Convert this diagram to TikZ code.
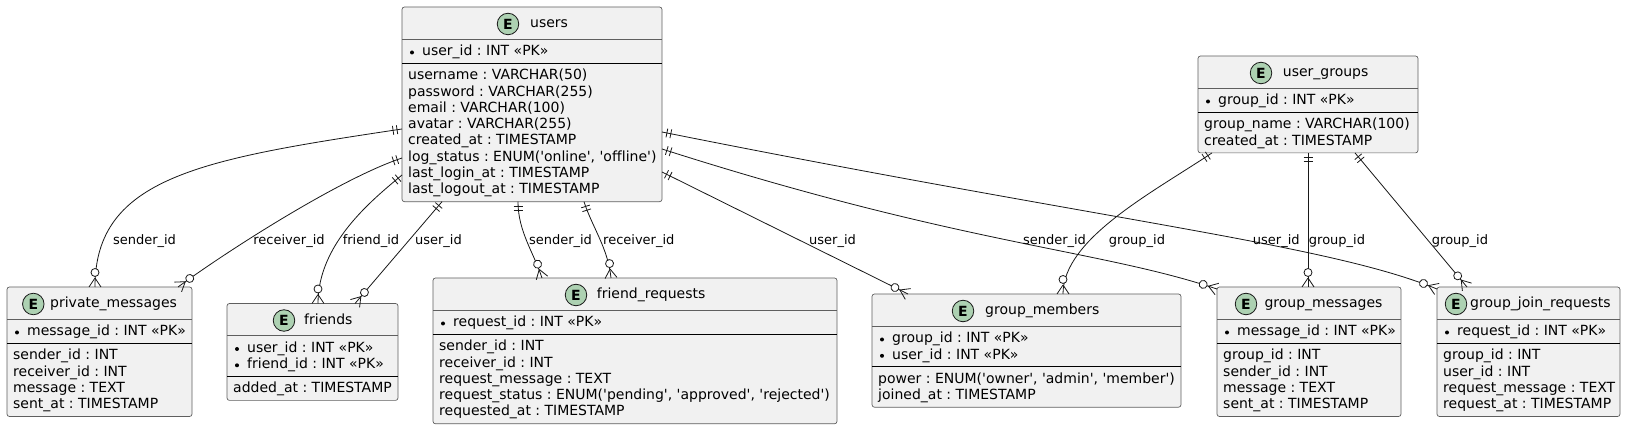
\documentclass[tikz,border=0pt]{standalone}
\usepackage{fontspec}
\newfontfamily\dvsans{DejaVu Sans}[Ligatures=NoCommon]
\usetikzlibrary{calc,decorations.markings}

\definecolor{boxfill}{HTML}{F1F1F1}
\definecolor{boxline}{HTML}{5F5F5F}
\definecolor{entgreen}{HTML}{ADD1B2}
\definecolor{relline}{HTML}{181818}
\newcommand\attrfont{\dvsans\fontsize{14}{16}\selectfont\frenchspacing}
\newcommand\relfont{\dvsans\fontsize{13}{15}\selectfont\frenchspacing}

\tikzset{
	entbox/.style={draw=boxline, fill=boxfill, line width=0.7pt, rounded corners=2.5pt, inner sep=0pt, outer sep=0pt, anchor=north west},
	ecircle/.style={circle, draw=relline, fill=entgreen, line width=0.8pt, minimum size=21.5pt, inner sep=0pt, font=\attrfont\bfseries},
	etitle/.style={anchor=base west, inner sep=0pt, font=\attrfont},
	attr/.style={anchor=base west, inner sep=0pt, font=\attrfont},
	pkdot/.style={fill=black},
	tsep/.style={draw=boxline, line width=0.7pt},
	ksep/.style={draw=black, line width=1.1pt},
	rlabel/.style={anchor=base, inner sep=0pt, font=\relfont},
	rel/.style={draw=relline, line width=0.8pt, postaction={decorate}, decoration={markings,
		mark=at position 0 with {\draw[relline, line width=0.8pt] (5pt,-4.5pt) -- (5pt,4.5pt) (9pt,-4.5pt) -- (9pt,4.5pt);},
		mark=at position 0.9999 with {\draw[relline, line width=0.8pt] (-9pt,0pt) -- (0pt,6pt) (-9pt,0pt) -- (0pt,-6pt); \draw[relline, line width=0.8pt, fill=white] (-14.5pt,0pt) circle (4pt);}}}
}

\begin{document}
\begin{tikzpicture}[x=1pt, y=-1pt]

	\useasboundingbox[fill=white] (0,0) rectangle (1626,430);

	% users
	\node[entbox, minimum width=260pt, minimum height=194.7pt] (users) at (402,7) {};
	\node[ecircle] (users-e) at (508,24) {E};
	\node[etitle] (users-t) at (530,28) {users};
	\draw[tsep] ([yshift=-32pt]users.north west) -- ([yshift=-32pt]users.north east);
	\draw[ksep] ([yshift=-56.3pt]users.north west) -- ([yshift=-56.3pt]users.north east);
	\fill[pkdot] (412,52.5) circle (2pt);
	\node[attr] (users-k1) at (422,56) {user\_id : INT «PK»};
	\node[attr] (users-a1) at (408,79.8) {username : VARCHAR(50)};
	\node[attr] (users-a2) at (408,96.1) {password : VARCHAR(255)};
	\node[attr] (users-a3) at (408,112.4) {email : VARCHAR(100)};
	\node[attr] (users-a4) at (408,128.7) {avatar : VARCHAR(255)};
	\node[attr] (users-a5) at (408,145) {created\_at : TIMESTAMP};
	\node[attr] (users-a6) at (408,161.3) {log\_status : ENUM('online', 'offline')};
	\node[attr] (users-a7) at (408,177.6) {last\_login\_at : TIMESTAMP};
	\node[attr] (users-a8) at (408,193.9) {last\_logout\_at : TIMESTAMP};

	% user_groups
	\node[entbox, minimum width=220pt, minimum height=96.9pt] (ugroups) at (1198,56) {};
	\node[ecircle] (ugroups-e) at (1261,73) {E};
	\node[etitle] (ugroups-t) at (1282.7,77) {user\_groups};
	\draw[tsep] ([yshift=-32pt]ugroups.north west) -- ([yshift=-32pt]ugroups.north east);
	\draw[ksep] ([yshift=-56.3pt]ugroups.north west) -- ([yshift=-56.3pt]ugroups.north east);
	\fill[pkdot] (1208,101.5) circle (2pt);
	\node[attr] (ugroups-k1) at (1218,105) {group\_id : INT «PK»};
	\node[attr] (ugroups-a1) at (1204,128.8) {group\_name : VARCHAR(100)};
	\node[attr] (ugroups-a2) at (1204,145.1) {created\_at : TIMESTAMP};

	% private_messages
	\node[entbox, minimum width=185pt, minimum height=129.5pt] (pmsg) at (7,287) {};
	\node[ecircle] (pmsg-e) at (33.3,304) {E};
	\node[etitle] (pmsg-t) at (50,308) {private\_messages};
	\draw[tsep] ([yshift=-32pt]pmsg.north west) -- ([yshift=-32pt]pmsg.north east);
	\draw[ksep] ([yshift=-56.3pt]pmsg.north west) -- ([yshift=-56.3pt]pmsg.north east);
	\fill[pkdot] (17,332.5) circle (2pt);
	\node[attr] (pmsg-k1) at (27,336) {message\_id : INT «PK»};
	\node[attr] (pmsg-a1) at (13,359.8) {sender\_id : INT};
	\node[attr] (pmsg-a2) at (13,376.1) {receiver\_id : INT};
	\node[attr] (pmsg-a3) at (13,392.4) {message : TEXT};
	\node[attr] (pmsg-a4) at (13,408.7) {sent\_at : TIMESTAMP};

	% friends
	\node[entbox, minimum width=171pt, minimum height=96.9pt] (friends) at (227,303.5) {};
	\node[ecircle] (friends-e) at (284,320.5) {E};
	\node[etitle] (friends-t) at (304,324.5) {friends};
	\draw[tsep] ([yshift=-32pt]friends.north west) -- ([yshift=-32pt]friends.north east);
	\draw[ksep] ([yshift=-72.6pt]friends.north west) -- ([yshift=-72.6pt]friends.north east);
	\fill[pkdot] (237,349) circle (2pt);
	\fill[pkdot] (237,365.3) circle (2pt);
	\node[attr] (friends-k1) at (247,352.5) {user\_id : INT «PK»};
	\node[attr] (friends-k2) at (247,368.8) {friend\_id : INT «PK»};
	\node[attr] (friends-a1) at (233,392.6) {added\_at : TIMESTAMP};

	% friend_requests
	\node[entbox, minimum width=404pt, minimum height=145.8pt] (freq) at (433,278) {};
	\node[ecircle] (freq-e) at (576,295) {E};
	\node[etitle] (freq-t) at (596.7,299) {friend\_requests};
	\draw[tsep] ([yshift=-32pt]freq.north west) -- ([yshift=-32pt]freq.north east);
	\draw[ksep] ([yshift=-56.3pt]freq.north west) -- ([yshift=-56.3pt]freq.north east);
	\fill[pkdot] (443,323.5) circle (2pt);
	\node[attr] (freq-k1) at (453,327) {request\_id : INT «PK»};
	\node[attr] (freq-a1) at (439,350.8) {sender\_id : INT};
	\node[attr] (freq-a2) at (439,367.1) {receiver\_id : INT};
	\node[attr] (freq-a3) at (439,383.4) {request\_message : TEXT};
	\node[attr] (freq-a4) at (439,399.7) {request\_status : ENUM('pending', 'approved', 'rejected')};
	\node[attr] (freq-a5) at (439,416) {requested\_at : TIMESTAMP};

	% group_members
	\node[entbox, minimum width=309pt, minimum height=113.2pt] (gmembers) at (872,294) {};
	\node[ecircle] (gmembers-e) at (963,311) {E};
	\node[etitle] (gmembers-t) at (985,315) {group\_members};
	\draw[tsep] ([yshift=-32pt]gmembers.north west) -- ([yshift=-32pt]gmembers.north east);
	\draw[ksep] ([yshift=-72.6pt]gmembers.north west) -- ([yshift=-72.6pt]gmembers.north east);
	\fill[pkdot] (882,339.5) circle (2pt);
	\fill[pkdot] (882,355.8) circle (2pt);
	\node[attr] (gmembers-k1) at (892,343) {group\_id : INT «PK»};
	\node[attr] (gmembers-k2) at (892,359.3) {user\_id : INT «PK»};
	\node[attr] (gmembers-a1) at (878,383.1) {power : ENUM('owner', 'admin', 'member')};
	\node[attr] (gmembers-a2) at (878,399.4) {joined\_at : TIMESTAMP};

	% group_messages
	\node[entbox, minimum width=184pt, minimum height=129.5pt] (gmsg) at (1217,287) {};
	\node[ecircle] (gmsg-e) at (1246,304) {E};
	\node[etitle] (gmsg-t) at (1264.3,308) {group\_messages};
	\draw[tsep] ([yshift=-32pt]gmsg.north west) -- ([yshift=-32pt]gmsg.north east);
	\draw[ksep] ([yshift=-56.3pt]gmsg.north west) -- ([yshift=-56.3pt]gmsg.north east);
	\fill[pkdot] (1227,332.5) circle (2pt);
	\node[attr] (gmsg-k1) at (1237,336) {message\_id : INT «PK»};
	\node[attr] (gmsg-a1) at (1223,359.8) {group\_id : INT};
	\node[attr] (gmsg-a2) at (1223,376.1) {sender\_id : INT};
	\node[attr] (gmsg-a3) at (1223,392.4) {message : TEXT};
	\node[attr] (gmsg-a4) at (1223,408.7) {sent\_at : TIMESTAMP};

	% group_join_requests
	\node[entbox, minimum width=183pt, minimum height=129.5pt] (gjoin) at (1437,287) {};
	\node[ecircle] (gjoin-e) at (1456,304) {E};
	\node[etitle] (gjoin-t) at (1470,308) {group\_join\_requests};
	\draw[tsep] ([yshift=-32pt]gjoin.north west) -- ([yshift=-32pt]gjoin.north east);
	\draw[ksep] ([yshift=-56.3pt]gjoin.north west) -- ([yshift=-56.3pt]gjoin.north east);
	\fill[pkdot] (1447,332.5) circle (2pt);
	\node[attr] (gjoin-k1) at (1457,336) {request\_id : INT «PK»};
	\node[attr] (gjoin-a1) at (1443,359.8) {group\_id : INT};
	\node[attr] (gjoin-a2) at (1443,376.1) {user\_id : INT};
	\node[attr] (gjoin-a3) at (1443,392.4) {request\_message : TEXT};
	\node[attr] (gjoin-a4) at (1443,408.7) {request\_at : TIMESTAMP};

	% relations
	\draw[rel] ([yshift=-122pt]users.north west) .. controls +(-200,30) and +(0,-110) .. ([xshift=88pt]pmsg.north west);
	\draw[rel] ([yshift=-151pt]users.north west) .. controls +(-60,20) and +(55,-40) .. ([xshift=171pt]pmsg.north west);
	\draw[rel] ([yshift=-168pt]users.north west) .. controls +(-30,25) and +(0,-60) .. ([xshift=91pt]friends.north west);
	\draw[rel] ([xshift=40pt]users.south west) -- ([xshift=-43pt]friends.north east);
	\draw[rel] ([xshift=116pt]users.south west) .. controls +(0,30) and +(-8,-25) .. ([xshift=109pt]freq.north west);
	\draw[rel] ([xshift=182pt]users.south west) .. controls +(8,25) and +(-3,-30) .. ([xshift=178pt]freq.north west);
	\draw[rel] ([yshift=-165pt]users.north east) -- ([xshift=36pt]gmembers.north west);
	\draw[rel] ([yshift=-142pt]users.north east) .. controls +(300,96) and +(-120,-40) .. ([yshift=-2pt]gmsg.north west);
	\draw[rel] ([yshift=-125pt]users.north east) .. controls +(450,90) and +(-110,-45) .. ([yshift=-2pt]gjoin.north west);
	\draw[rel] ([xshift=14pt]ugroups.south west) .. controls +(-60,40) and +(0,-55) .. ([xshift=191pt]gmembers.north west);
	\draw[rel] ([xshift=110pt]ugroups.south west) -- ([xshift=91pt]gmsg.north west);
	\draw[rel] ([xshift=157pt]ugroups.south west) -- ([xshift=30pt]gjoin.north west);

	\node[rlabel] (l-pm-s) at (144.5,245) {sender\_id};
	\node[rlabel] (l-pm-r) at (289,245) {receiver\_id};
	\node[rlabel] (l-fr-f) at (371,245) {friend\_id};
	\node[rlabel] (l-fr-u) at (438.5,245) {user\_id};
	\node[rlabel] (l-fq-s) at (560.5,245) {sender\_id};
	\node[rlabel] (l-fq-r) at (638.8,245) {receiver\_id};
	\node[rlabel] (l-gm-u) at (832.5,245) {user\_id};
	\node[rlabel] (l-gs-s) at (1054.5,245) {sender\_id};
	\node[rlabel] (l-gm-g) at (1137,245) {group\_id};
	\node[rlabel] (l-gj-u) at (1276.3,245) {user\_id};
	\node[rlabel] (l-gs-g) at (1337,245) {group\_id};
	\node[rlabel] (l-gj-g) at (1460,245) {group\_id};

\end{tikzpicture}
\end{document}
